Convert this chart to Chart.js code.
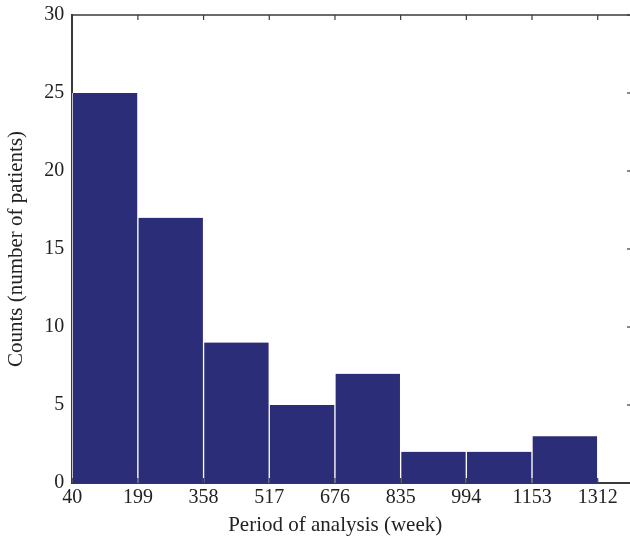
<!DOCTYPE html>
<html>
<head>
<meta charset="utf-8">
<script src="https://cdn.jsdelivr.net/npm/chart.js@4.4.1/dist/chart.umd.min.js"></script>
<style>
  html, body { margin: 0; padding: 0; background: #fff; overflow: hidden; }
  #wrap { width: 636px; height: 541px; }
</style>
</head>
<body>
<div id="wrap"><canvas id="grafico"></canvas></div>
<script>
// ======= Dados =======
const binStart = 40;
const binCenters = [119.5, 278.5, 437.5, 596.5, 755.5, 914.5, 1073.5, 1232.5];
const counts = [25, 17, 9, 5, 7, 2, 2, 3];
const xTicks = [40, 199, 358, 517, 676, 835, 994, 1153, 1312];
const yTicks = [0, 5, 10, 15, 20, 25, 30];

const serif = "'Liberation Serif', 'DejaVu Serif', serif";
const corCaixa = "#3a3a3a";
const corTexto = "#222";

// linha de cima, ticks para dentro e titulo do eixo x
const moldura = {
  id: "moldura",
  afterDatasetsDraw(chart) {
    const { ctx, chartArea: a, scales } = chart;
    ctx.save();
    ctx.strokeStyle = corCaixa;
    ctx.lineWidth = 1.5;
    ctx.beginPath();
    ctx.moveTo(a.left, a.top);
    ctx.lineTo(a.right, a.top);
    ctx.stroke();
    ctx.lineWidth = 1.2;
    xTicks.forEach(v => {
      const x = scales.x.getPixelForValue(v);
      ctx.beginPath();
      ctx.moveTo(x, a.top); ctx.lineTo(x, a.top + 5);
      ctx.moveTo(x, a.bottom); ctx.lineTo(x, a.bottom - 5);
      ctx.stroke();
    });
    yTicks.forEach(v => {
      const y = scales.y.getPixelForValue(v);
      ctx.beginPath();
      ctx.moveTo(a.right, y); ctx.lineTo(a.right - 5, y);
      ctx.stroke();
    });
    ctx.fillStyle = corTexto;
    ctx.font = "21px " + serif;
    ctx.textAlign = "center";
    ctx.textBaseline = "middle";
    ctx.fillText("Period of analysis (week)", a.left + 263, a.bottom + 42);
    ctx.restore();
  }
};

new Chart(document.getElementById("grafico"), {
  type: "bar",
  data: {
    datasets: [{
      data: binCenters.map((c, i) => ({ x: c, y: counts[i] })),
      backgroundColor: "#2b2d78",
      borderColor: "#ffffff",
      borderWidth: { left: 1, right: 1, top: 0, bottom: 0 },
      borderSkipped: false,
      barPercentage: 1,
      categoryPercentage: 1,
      grouped: false
    }]
  },
  options: {
    responsive: true,
    maintainAspectRatio: false,
    animation: false,
    layout: { padding: { top: 10, right: 4, bottom: 28, left: 4 } },
    plugins: { legend: { display: false }, tooltip: { enabled: false } },
    scales: {
      x: {
        type: "linear",
        offset: false,
        min: binStart,
        max: 1395,
        afterBuildTicks: s => { s.ticks = xTicks.map(v => ({ value: v })); },
        grid: { display: false, drawTicks: false },
        border: { display: true, color: corCaixa, width: 2 },
        ticks: { color: corTexto, font: { family: serif, size: 20 }, padding: 3, maxRotation: 0, autoSkip: false, callback: v => String(v) }
      },
      y: {
        min: 0,
        max: 30,
        afterBuildTicks: s => { s.ticks = yTicks.map(v => ({ value: v })); },
        grid: { display: false, drawTicks: false },
        border: { display: true, color: corCaixa, width: 2 },
        ticks: { color: corTexto, font: { family: serif, size: 20, lineHeight: 0.7 }, padding: 8 },
        title: { display: true, text: "Counts (number of patients)", color: corTexto, font: { family: serif, size: 21 }, padding: { top: 0, bottom: 7 } }
      }
    }
  },
  plugins: [moldura]
});
</script>
</body>
</html>
